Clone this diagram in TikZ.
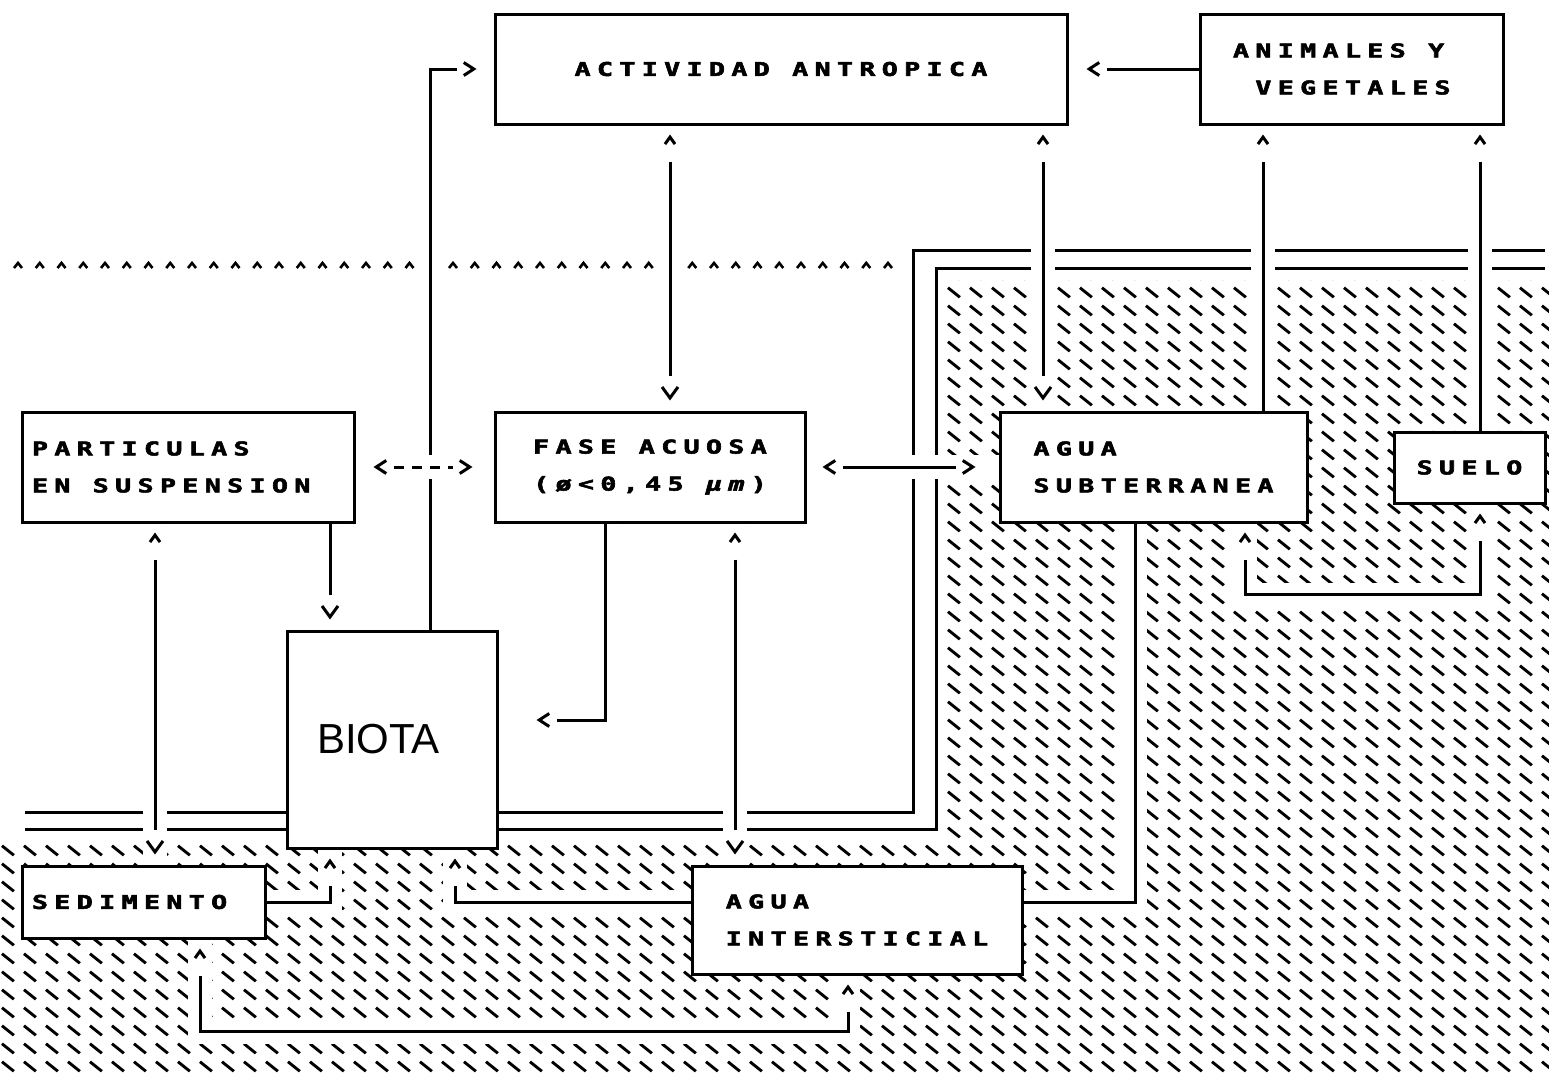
\documentclass[tikz,border=0pt]{standalone}
\usepackage{fontspec}
\usepackage{graphicx}
\usepackage{tikz}
\usetikzlibrary{arrows.meta, patterns.meta, decorations.markings}
\newfontfamily\printfont{DejaVu Sans Mono}[UprightFont=* Bold, ItalicFont=* Bold Oblique,
  LetterSpace=24, FakeBold=2.5]
\newfontfamily\biotafont{Liberation Sans}
\newcommand{\wide}[1]{\scalebox{1.4}[1]{\spaceskip=0pt\xspaceskip=0pt #1}}

% short backslash strokes, like the printer hatching
\tikzdeclarepattern{
  name=seabed,
  type=uncolored,
  bottom left={(0pt,0pt)},
  top right={(10.875pt,9pt)},
  tile size={(10.875pt,9pt)},
  code={\draw[line width=1.5pt] (1pt,7.5pt) -- (7pt,2.5pt);}
}

\begin{document}
\begin{tikzpicture}[
  x=0.5pt, y=-0.5pt,
  % arrow heads stand free of the line, as on the printout
  hend/.style={shorten >=#1+10pt, postaction={decorate, decoration={markings,
    mark=at position -#1 with {\arrow[solid]{Straight Barb[length=5pt, width=6.5pt]}}}}},
  hstart/.style={shorten <=#1+10pt, postaction={decorate, decoration={markings,
    mark=at position #1 with {\arrowreversed[solid]{Straight Barb[length=5pt, width=6.5pt]}}}}},
  vend/.style={shorten >=#1+12.5pt, postaction={decorate, decoration={markings,
    mark=at position -#1 with {\arrow{Straight Barb[length=5.5pt, width=8pt]}}}}},
  cend/.style={shorten >=#1+13.5pt, postaction={decorate, decoration={markings,
    mark=at position -#1 with {\arrow{Straight Barb[length=3.5pt, width=5pt]}}}}},
  cstart/.style={shorten <=#1+13.5pt, postaction={decorate, decoration={markings,
    mark=at position #1 with {\arrowreversed{Straight Barb[length=3.5pt, width=5pt]}}}}},
  box/.style={draw, fill=white, line width=1.5pt, inner sep=0pt, align=center,
    font=\printfont\fontsize{9.5}{18.5}\selectfont},
  con/.style={line width=1.5pt, preaction={draw=white, solid, line width=12pt,
    shorten <=0pt, shorten >=0pt}},
  wave/.style={line width=1.3pt},
  layer/.style={line width=1.5pt},
]
  \useasboundingbox (0,0) rectangle (1549,1076);

  % Ground hatching
  \fill[pattern=seabed] (947,280) -- (1549,280) -- (1549,1076) -- (0,1076)
    -- (0,840) -- (947,840) -- cycle;

  % Water surface
  \foreach \i in {0,...,40}
    \draw[wave] ({18+21.75*\i-4},268) -- ++(4,-5) -- ++(4,5);

  % Interfaces (double lines)
  \draw[layer] (25,812) -- (287,812) (497,812) -- (913,812) -- (913,250) -- (1545,250);
  \draw[layer] (25,829) -- (287,829) (497,829) -- (936,829) -- (936,268) -- (1545,268);

  % Boxes
  \node[box, minimum width=286pt, minimum height=55pt] (actividad) at (781,69) {\wide{ACTIVIDAD ANTROPICA}};
  \node[box, align=left, text width=118.5pt, inner xsep=16.5pt, minimum height=55pt] (animales) at (1351.5,69) {\wide{ANIMALES Y}\\\wide{\ VEGETALES}};
  \node[box, align=left, text width=156pt, inner xsep=5pt, minimum height=55pt] (particulas) at (188,467) {\wide{PARTICULAS}\\\wide{EN SUSPENSION}};
  \node[box, minimum width=155pt, minimum height=55pt] (fase) at (650,467) {\wide{FASE ACUOSA}\\\wide{(ø<0,45 \textit{μm})}};
  \node[box, align=left, minimum width=153.5pt, minimum height=55pt] (subterranea) at (1153.5,467) {\wide{AGUA}\\\wide{SUBTERRANEA}};
  \node[box, minimum width=75.5pt, minimum height=35.5pt] (suelo) at (1469.5,467.5) {\wide{SUELO}};
  \node[box, align=left, text width=75pt, inner xsep=15pt, minimum height=108.5pt, font=\biotafont\fontsize{21}{25}\selectfont] (biota) at (392,739.5) {BIOTA};
  \node[box, align=left, text width=111.5pt, inner xsep=5pt, minimum height=36pt] (sedimento) at (143.5,902) {\wide{SEDIMENTO}};
  \node[box, align=left, minimum width=165pt, minimum height=54pt] (intersticial) at (857,920) {\wide{AGUA}\\\wide{INTERSTICIAL}};

  % Upper connectors
  \draw[con, hend=8.5pt] (biota.north -| 430,0) |- (actividad.west);
  \draw[con, hend=9pt] (animales.west) -- (actividad.east);
  \draw[con, cstart=4.5pt, vend=5pt] (actividad.south -| 670,0) -- (fase.north -| 670,0);
  \draw[con, cstart=4.5pt, vend=5pt] (actividad.south -| 1043,0) -- (subterranea.north -| 1043,0);
  \draw[con, cstart=4.5pt] (animales.south -| 1263,0) -- (subterranea.north -| 1263,0);
  \draw[con, cstart=4.5pt] (animales.south -| 1480,0) -- (suelo.north -| 1480,0);

  % Middle row
  \draw[con, dash pattern=on 5pt off 4pt, hstart=9pt, hend=10.5pt] (particulas.east) -- (fase.west);
  \draw[con, hstart=8pt, hend=11.5pt] (fase.east) -- (subterranea.west);

  % Lower connectors
  \draw[con, cstart=4.5pt, vend=5pt] (particulas.south -| 155,0) -- (sedimento.north -| 155,0);
  \draw[con, vend=5pt] (particulas.south -| 330,0) -- (biota.north -| 330,0);
  \draw[con, hend=19pt] (fase.south -| 605,0) |- (biota.east |- 0,720);
  \draw[con, cstart=4.5pt, vend=5pt] (fase.south -| 735,0) -- (intersticial.north -| 735,0);
  \draw[con, cend=4.5pt] (sedimento.east) -| (biota.south -| 330,0);
  \draw[con, cend=4.5pt] (intersticial.west |- 0,902) -| (biota.south -| 455,0);
  \draw[con] (subterranea.south -| 1135,0) |- (intersticial.east |- 0,902);
  \draw[con, cstart=4.5pt, cend=4.5pt] (subterranea.south -| 1245,0) -- ++(0,71) -| (suelo.south -| 1480,0);
  \draw[con, cstart=4.5pt, cend=4.5pt] (sedimento.south -| 200,0) -- ++(0,92) -| (intersticial.south -| 848,0);
\end{tikzpicture}
\end{document}
